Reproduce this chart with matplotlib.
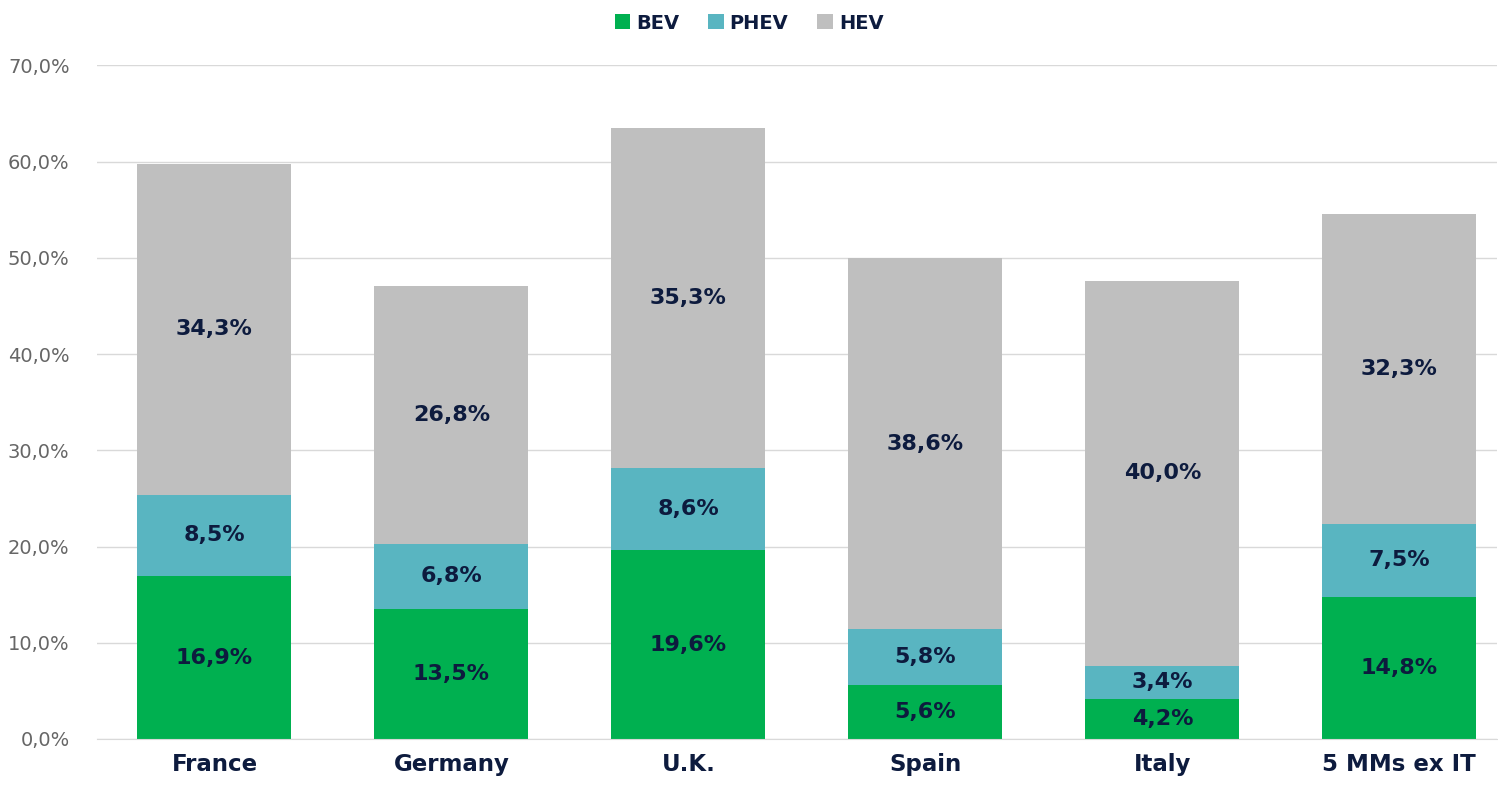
import numpy as np
import matplotlib.pyplot as plt

countries = ["France", "Germany", "U.K.", "Spain", "Italy", "5 MMs ex IT"]
bev = [16.9, 13.5, 19.6, 5.6, 4.2, 14.8]
phev = [8.5, 6.8, 8.6, 5.8, 3.4, 7.5]
hev = [34.3, 26.8, 35.3, 38.6, 40.0, 32.3]

series = [("BEV", bev, "#00B050"), ("PHEV", phev, "#59B5C1"), ("HEV", hev, "#BFBFBF")]
navy = "#0D1B3E"

plt.rcParams['font.family'] = ['DejaVu Sans']

fig = plt.figure(figsize=(14.98, 7.87), dpi=100)
ax = fig.add_axes([0.065, 0.061, 0.934, 0.856])

x = np.arange(len(countries))
bottom = np.zeros(len(countries))
for name, vals, col in series:
    vals = np.array(vals)
    ax.bar(x, vals, 0.65, bottom=bottom, color=col, label=name, zorder=2)
    for xi, b, v in zip(x, bottom, vals):
        ax.text(xi, b + v / 2, f"{v:.1f}%".replace(".", ","), ha="center", va="center",
                fontsize=16, fontweight="bold", color=navy, zorder=3)
    bottom += vals

ax.set_ylim(0, 70)
ax.set_xlim(-0.494, 5.41)
ax.set_yticks(np.arange(0, 71, 10))
ax.set_yticklabels([f"{v:.1f}%".replace(".", ",") for v in np.arange(0, 71, 10)],
                   fontsize=14, color="#666666")
ax.set_xticks(x)
ax.set_xticklabels(countries, fontsize=16.5, fontweight="bold", color=navy)
ax.tick_params(axis="both", length=0)
ax.tick_params(axis="x", pad=10)
ax.tick_params(axis="y", pad=20)
ax.grid(axis="y", color="#D9D9D9", linewidth=1, zorder=0)
for s in ["top", "right", "left"]:
    ax.spines[s].set_visible(False)
ax.spines["bottom"].set_color("#D9D9D9")

leg = fig.legend(loc="upper center", bbox_to_anchor=(0.5, 1.005), ncol=3, frameon=False,
                 handlelength=0.8, handleheight=0.8, handletextpad=0.3, columnspacing=1.5,
                 prop={"size": 14, "weight": "bold"})
for t in leg.get_texts():
    t.set_color(navy)

fig.savefig("out.png", dpi=100)
